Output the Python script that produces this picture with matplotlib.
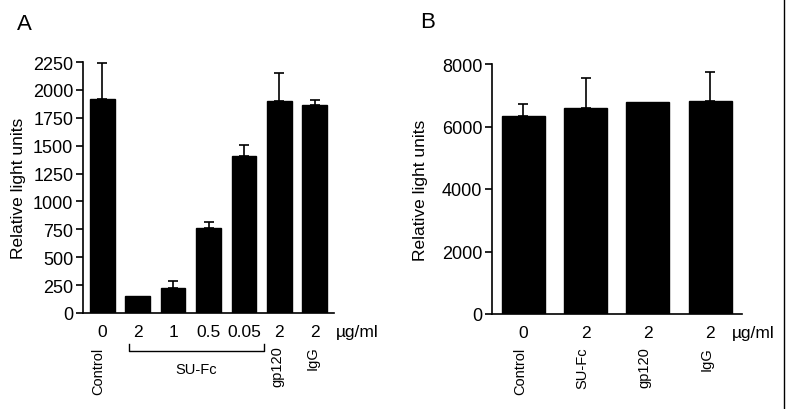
import matplotlib
matplotlib.use("Agg")
import matplotlib.pyplot as plt
from matplotlib.lines import Line2D
import numpy as np

plt.rcParams['font.family'] = ['Liberation Sans', 'DejaVu Sans']

# Panel A data
a_doses = ["0", "2", "1", "0.5", "0.05", "2", "2"]
a_values = [1920, 150, 227, 758, 1405, 1900, 1866]
a_err = [320, 0, 62, 60, 104, 252, 42]
a_yticks = [0, 250, 500, 750, 1000, 1250, 1500, 1750, 2000, 2250]

# Panel B data
b_doses = ["0", "2", "2", "2"]
b_labels = ["Control", "SU-Fc", "gp120", "IgG"]
b_values = [6334, 6578, 6770, 6814]
b_err = [384, 983, 0, 930]
b_yticks = [0, 2000, 4000, 6000, 8000]

unit = "µg/ml"

fig = plt.figure(figsize=(7.87, 4.10), dpi=100)
W, H = 787, 410

def px_axes(l, t, r, b):
    return fig.add_axes([l / W, 1 - b / H, (r - l) / W, (b - t) / H])

def style(ax):
    for s in ['top', 'right']:
        ax.spines[s].set_visible(False)
    ax.spines['left'].set_linewidth(1.2)
    ax.spines['bottom'].set_linewidth(1.2)
    ax.tick_params(axis='y', direction='out', length=5, width=1.2, labelsize=13, pad=2)
    ax.set_xticks([])

def draw_bars(ax, values, err, width):
    x = np.arange(len(values))
    ax.bar(x, values, width=width, color='black', edgecolor='black')
    idx = [i for i, e in enumerate(err) if e > 0]
    ax.errorbar(x[idx], np.array(values)[idx],
                yerr=[np.zeros(len(idx)), np.array(err)[idx]],
                fmt='none', ecolor='black', elinewidth=1.2, capsize=3.5, capthick=1.2)
    return x

DOSE_FS = 12.5
CAT_FS = 10.5

# ---- Panel A ----
axA = px_axes(83, 63, 334, 314)
style(axA)
xA = draw_bars(axA, a_values, a_err, 0.7)
axA.set_xlim(-0.54, 6.54)
axA.set_ylim(0, 2250)
axA.set_yticks(a_yticks)
axA.set_ylabel("Relative light units", fontsize=12.5, labelpad=5)
tA = axA.get_xaxis_transform()
for xi, d in zip(xA, a_doses):
    axA.text(xi, -0.075, d, transform=tA, ha='center', va='center', fontsize=DOSE_FS)
axA.text(6.58, -0.075, unit, transform=tA, ha='left', va='center', fontsize=DOSE_FS)
axA.text(-0.1, -0.135, "Control", transform=tA, rotation=90, ha='center', va='top', fontsize=CAT_FS)
axA.text(4.95, -0.128, "gp120", transform=tA, rotation=90, ha='center', va='top', fontsize=CAT_FS)
axA.text(5.95, -0.128, "IgG", transform=tA, rotation=90, ha='center', va='top', fontsize=CAT_FS)
# bracket under SU-Fc doses
bx0, bx1 = 0.76, 4.57
axA.plot([bx0, bx0, bx1, bx1], [-0.124, -0.151, -0.151, -0.124], transform=tA,
         color='black', lw=1.0, clip_on=False)
axA.text((bx0 + bx1) / 2, -0.223, "SU-Fc", transform=tA, ha='center', va='center', fontsize=CAT_FS)

# ---- Panel B ----
axB = px_axes(492, 65, 742, 315)
style(axB)
xB = draw_bars(axB, b_values, b_err, 0.69)
axB.set_xlim(-0.5, 3.51)
axB.set_ylim(0, 8000)
axB.set_yticks(b_yticks)
axB.set_ylabel("Relative light units", fontsize=12.5, labelpad=10)
tB = axB.get_xaxis_transform()
for xi, d in zip(xB, b_doses):
    axB.text(xi, -0.073, d, transform=tB, ha='center', va='center', fontsize=DOSE_FS)
axB.text(3.35, -0.073, unit, transform=tB, ha='left', va='center', fontsize=DOSE_FS)
for xi, lab in zip(xB, b_labels):
    axB.text(xi - 0.05, -0.13, lab, transform=tB, rotation=90, ha='center', va='top', fontsize=CAT_FS)

# panel letters
fig.text(17 / W, 1 - 24 / H, "A", fontsize=16, ha='left', va='center')
fig.text(420 / W, 1 - 22 / H, "B", fontsize=16, ha='left', va='center')

# image border line at right edge
fig.add_artist(Line2D([784 / W, 784 / W], [0, 1], color='black', lw=1.0))

fig.savefig("out.png", dpi=100)
